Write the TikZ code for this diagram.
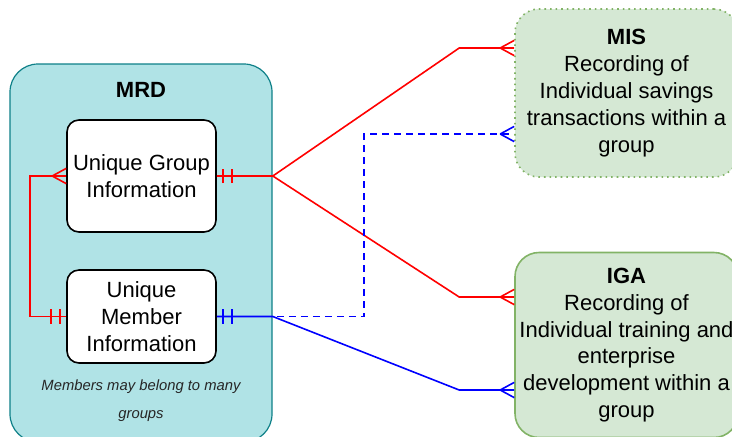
\documentclass[tikz,border=0pt]{standalone}
\usepackage{fontspec}
\setsansfont{Liberation Sans}
\usetikzlibrary{positioning, calc, arrows.meta}

\definecolor{mrdfill}{HTML}{B0E3E6}
\definecolor{mrddraw}{HTML}{0E8088}
\definecolor{sysfill}{HTML}{D5E8D4}
\definecolor{sysdraw}{HTML}{82B366}
\definecolor{relred}{HTML}{FF0000}
\definecolor{relblue}{HTML}{0000FF}

% ER ends: many (crow's foot) and only one (double bar)
\pgfdeclarearrow{
    name=ermany,
    setup code={
        \pgfarrowssettipend{0pt}
        \pgfarrowssetlineend{0pt}
        \pgfarrowssetbackend{-7pt}
        \pgfarrowssetvisualbackend{-7pt}
    },
    drawing code={
        \pgfsetdash{}{0pt}
        \pgfpathmoveto{\pgfpoint{-7pt}{0pt}}
        \pgfpathlineto{\pgfpoint{0pt}{3.8pt}}
        \pgfpathmoveto{\pgfpoint{-7pt}{0pt}}
        \pgfpathlineto{\pgfpoint{0pt}{-3.8pt}}
        \pgfusepathqstroke
    },
}
\pgfdeclarearrow{
    name=eronlyone,
    setup code={
        \pgfarrowssettipend{0pt}
        \pgfarrowssetlineend{0pt}
        \pgfarrowssetbackend{-8pt}
        \pgfarrowssetvisualbackend{-8pt}
    },
    drawing code={
        \pgfsetdash{}{0pt}
        \pgfpathmoveto{\pgfpoint{-3pt}{3.6pt}}
        \pgfpathlineto{\pgfpoint{-3pt}{-3.6pt}}
        \pgfpathmoveto{\pgfpoint{-7.5pt}{3.6pt}}
        \pgfpathlineto{\pgfpoint{-7.5pt}{-3.6pt}}
        \pgfusepathqstroke
    },
}

\begin{document}
\begin{tikzpicture}[
    % GLOBAL CFG
    x=0.5pt, y=-0.5pt,
    font=\sffamily\fontsize{11}{13.4}\selectfont,
    % Styles
    mrd/.style={% For the MRD container
        rectangle,
        rounded corners=14pt,
        draw=mrddraw,
        line width=.6pt,
        fill=mrdfill,
    },
    entity/.style={% For the tables inside MRD
        rectangle,
        rounded corners=6pt,
        draw=black,
        line width=.8pt,
        fill=white,
        inner sep=0pt,
        minimum width=74.5pt,
    },
    system/.style={% For the outside systems
        rectangle,
        rounded corners=12pt,
        draw=sysdraw,
        line width=.8pt,
        fill=sysfill,
        inner sep=0pt,
        minimum width=111.5pt,
    },
    note/.style={
        font=\sffamily\itshape\fontsize{7.4}{14}\selectfont,
        text=black!85,
    },
    RelRed/.style={% Red relations
        draw=relred,
        line width=.8pt,
    },
    RelBlue/.style={% Blue relations
        draw=relblue,
        line width=.8pt,
    },
    every text node part/.style={
        align=center
    },
    ]
    \clip (0,0) rectangle (732,436);
    \useasboundingbox (0,0) rectangle (732,436);

    % Draw
    % Draw MRD container
    \node [mrd, minimum width=131pt, minimum height=189pt] (mrd) at (141,253) {};
    \node [font=\sffamily\bfseries\fontsize{11}{13.4}\selectfont] (mrdtitle) at (141,90) {MRD};

    % Draw tables named grp and mem
    \node [entity, minimum height=56pt] (grp) at (141.5,176) {Unique Group\\Information};
    \node [entity, minimum height=46.5pt] (mem) at (141.5,316.5) {Unique\\Member\\Information};
    \node [note] (memnote) at (141,401) {Members may belong to many\\groups};

    % Draw systems named mis and iga
    \node [system, dotted, minimum height=84pt] (mis) at (626.5,93)
        {\textbf{MIS}\\Recording of\\Individual savings\\transactions within a\\group};
    \node [system, minimum height=92.5pt] (iga) at (626.5,345)
        {\textbf{IGA}\\Recording of\\Individual training and\\enterprise\\development within a\\group};

    % Coordinates
    \coordinate (misA) at ($(mis.west)+(0,-45)$);
    \coordinate (misB) at ($(mis.west)+(0,41)$);
    \coordinate (igaA) at ($(iga.west)+(0,-48)$);
    \coordinate (igaB) at ($(iga.west)+(0,45)$);
    \coordinate (grpout) at ($(grp.east)+(56,0)$);
    \coordinate (memout) at ($(mem.east)+(56,0)$);

    % Connect all
    % Group to member (inside MRD)
    \draw [RelRed, {eronlyone}-{ermany}] (mem.west) -- ++(-36,0) |- (grp.west);

    % Group to systems
    \draw [RelRed, {eronlyone}-{ermany}] (grp.east) -- (grpout) -- ($(misA)+(-55,0)$) -- (misA);
    \draw [RelRed, -{ermany}] (grpout) -- ($(igaA)+(-55,0)$) -- (igaA);

    % Member to systems
    \draw [RelBlue, {eronlyone}-{ermany}] (mem.east) -- (memout) -- ($(igaB)+(-55,0)$) -- (igaB);
    \draw [RelBlue, dash pattern=on 3.5pt off 2.5pt, -{ermany}] (mem.east) -| ($(misB)+(-150,0)$) -- (misB);

\end{tikzpicture}
\end{document}
